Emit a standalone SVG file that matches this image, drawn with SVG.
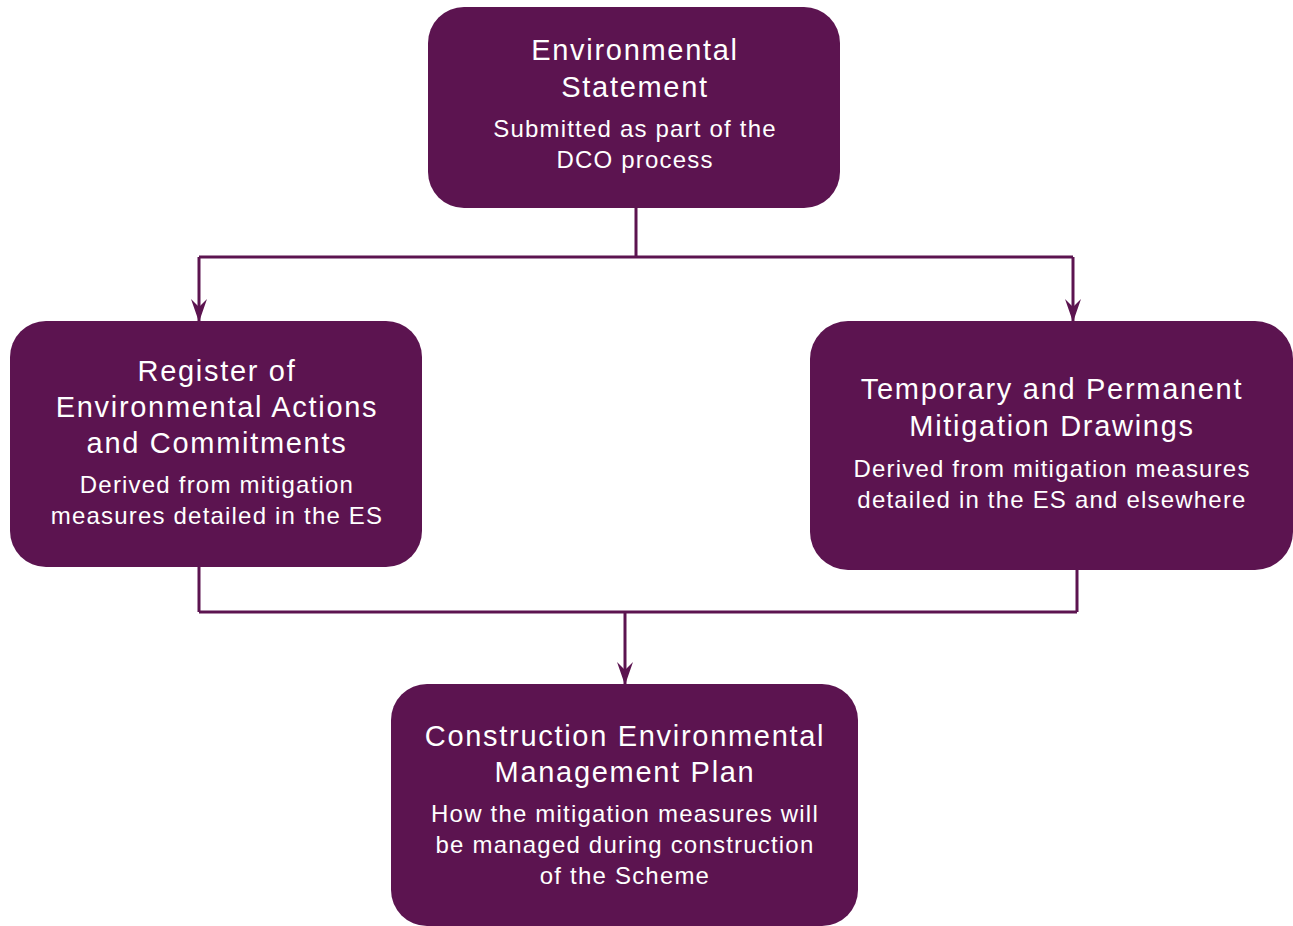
<svg xmlns="http://www.w3.org/2000/svg" width="1293" height="926" viewBox="0 0 1293 926">
<style>
.box{fill:#5C1450}
.t{font-family:"Liberation Sans",Arial,sans-serif;fill:#fff;text-anchor:middle}
.h{font-size:29px;letter-spacing:1.7px}
.s{font-size:24px;letter-spacing:1.2px}
.c{stroke:#5C1450;stroke-width:3;fill:none}
</style>
<defs>
<marker id="a" viewBox="0 0 23 16" refX="22" refY="8" markerWidth="23" markerHeight="16" markerUnits="userSpaceOnUse" orient="auto">
<path d="M0,0 L8,8 L0,16 L23,8 Z" fill="#5C1450"/>
</marker>
</defs>
<rect width="1293" height="926" fill="#fff"/>
<g id="connectors">
<path class="c" d="M636,208 V257 M199,257 H1073"/>
<path class="c" d="M199,257 V321" marker-end="url(#a)"/>
<path class="c" d="M1073,257 V321" marker-end="url(#a)"/>
<path class="c" d="M199,567 V612 M1077,570 V612 M199,612 H1077"/>
<path class="c" d="M625,612 V684" marker-end="url(#a)"/>
</g>
<g id="es">
<rect class="box" x="428" y="7" width="412" height="201" rx="36"/>
<text class="t h" x="635" y="60">Environmental</text>
<text class="t h" x="635" y="97">Statement</text>
<text class="t s" x="635" y="137">Submitted as part of the</text>
<text class="t s" x="635" y="168">DCO process</text>
</g>
<g id="reac">
<rect class="box" x="10" y="321" width="412" height="246" rx="36"/>
<text class="t h" x="217" y="381">Register of</text>
<text class="t h" x="217" y="417">Environmental Actions</text>
<text class="t h" x="217" y="453">and Commitments</text>
<text class="t s" x="217" y="493">Derived from mitigation</text>
<text class="t s" x="217" y="524">measures detailed in the ES</text>
</g>
<g id="drawings">
<rect class="box" x="810" y="321" width="483" height="249" rx="38"/>
<text class="t h" x="1052" y="399">Temporary and Permanent</text>
<text class="t h" x="1052" y="436">Mitigation Drawings</text>
<text class="t s" x="1052" y="477">Derived from mitigation measures</text>
<text class="t s" x="1052" y="508">detailed in the ES and elsewhere</text>
</g>
<g id="cemp">
<rect class="box" x="391" y="684" width="467" height="242" rx="36"/>
<text class="t h" x="625" y="746">Construction Environmental</text>
<text class="t h" x="625" y="782">Management Plan</text>
<text class="t s" x="625" y="822">How the mitigation measures will</text>
<text class="t s" x="625" y="853">be managed during construction</text>
<text class="t s" x="625" y="884">of the Scheme</text>
</g>
</svg>
